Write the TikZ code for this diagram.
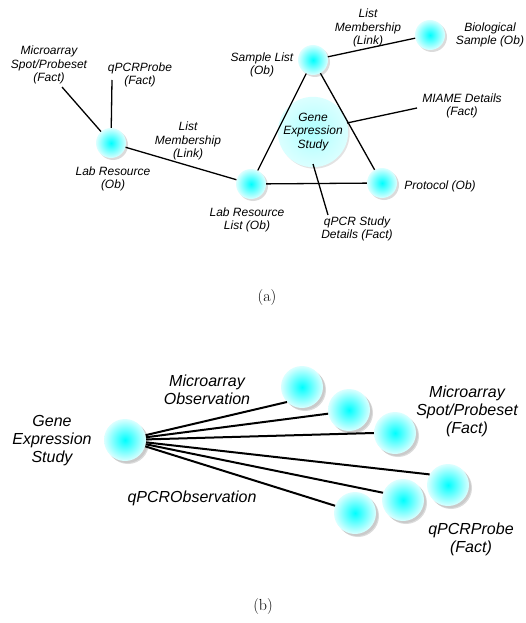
\documentclass[tikz,border=0pt]{standalone}
\usepackage{fontspec}
\setsansfont{Liberation Sans}
\usepackage{tikz}
\usetikzlibrary{shadows}

\tikzset{
	ball/.style={shape=circle, minimum size=30pt, inner sep=0pt, shading=radial, inner color=cyan, outer color=cyan!14, drop shadow={shadow xshift=2pt, shadow yshift=-2pt, fill=black!28}},
	bigball/.style={ball, minimum size=42pt, drop shadow={shadow xshift=3pt, shadow yshift=-3pt, fill=black!28}},
	study/.style={shape=circle, minimum size=64pt, inner sep=0pt, align=center, shading=radial, inner color=cyan!32, outer color=cyan!14, font=\fontsize{12}{13.5}\selectfont\sffamily\itshape, drop shadow={shadow xshift=1.5pt, shadow yshift=-1.5pt, fill=black!22}},
	lbl/.style={align=center, inner sep=0pt, font=\fontsize{12}{13.5}\selectfont\sffamily\itshape},
	biglbl/.style={align=center, inner sep=0pt, font=\fontsize{16}{18}\selectfont\sffamily\itshape},
	caption/.style={inner sep=0pt, font=\fontsize{16}{18}\selectfont},
	link/.style={draw=black, line width=1.3pt},
	biglink/.style={draw=black, line width=2pt}
}

\begin{document}
\begin{tikzpicture}[x=1pt, y=-1pt]
	\useasboundingbox (0,0) rectangle (525,623);

	\node[ball] (lr)   at (111, 143) {};
	\node[ball] (lrl)  at (251, 184) {};
	\node[ball] (prot) at (382, 183) {};
	\node[ball] (sl)   at (313, 60)  {};
	\node[ball] (bio)  at (430, 35)  {};
	\node[study] (ges) at (313, 132) {Gene\\Expression\\Study};

	\node[lbl] (msp)   at (49, 65)   {Microarray\\Spot/Probeset\\(Fact)};
	\node[lbl] (qpp)   at (140, 75)  {qPCRProbe\\(Fact)};
	\node[lbl] (lrt)   at (113, 179) {Lab Resource\\(Ob)};
	\node[lbl] (lma)   at (188, 141) {List\\Membership\\(Link)};
	\node[lbl] (lmb)   at (368, 28)  {List\\Membership\\(Link)};
	\node[lbl] (slt)   at (262, 65)  {Sample List\\(Ob)};
	\node[lbl] (biot)  at (490, 35)  {Biological\\Sample (Ob)};
	\node[lbl] (miame) at (462, 106) {MIAME Details\\(Fact)};
	\node[lbl] (qsd)   at (357, 229) {qPCR Study\\Details (Fact)};
	\node[lbl] (prott) at (440, 186) {Protocol (Ob)};
	\node[lbl] (lrlt)  at (247, 220) {Lab Resource\\List (Ob)};
	\node[caption] (capa) at (267, 298) {(a)};

	\coordinate (mspe)   at (62, 87);
	\coordinate (qppe)   at (112, 80);
	\coordinate (miamei) at (347, 123);
	\coordinate (miamee) at (417, 108);
	\coordinate (qsdi)   at (313, 164);
	\coordinate (qsde)   at (328, 215);

	\path[link] (mspe) edge (lr);
	\path[link] (qppe) edge (lr);
	\path[link] (lr) edge (lrl);
	\path[link] (lrl) edge (sl);
	\path[link] (sl) edge (prot);
	\path[link] (lrl) edge (prot);
	\path[link] (sl) edge (bio);
	\path[link] (miamei) edge (miamee);
	\path[link] (qsdi) edge (qsde);

	\node[bigball] (gesb) at (125, 440) {};
	\node[bigball] (moa)  at (302, 387) {};
	\node[bigball] (mob)  at (349, 410) {};
	\node[bigball] (mspb) at (395, 433) {};
	\node[bigball] (qpa)  at (448, 485) {};
	\node[bigball] (qpb)  at (403, 500) {};
	\node[bigball] (qoa)  at (355, 513) {};

	\node[biglbl] (gest) at (52, 441)  {Gene\\Expression\\Study};
	\node[biglbl] (mot)  at (207, 390) {Microarray\\Observation};
	\node[biglbl] (mspt) at (467, 411) {Microarray\\Spot/Probeset\\(Fact)};
	\node[biglbl] (qot)  at (192, 498) {qPCRObservation};
	\node[biglbl] (qppt) at (471, 539) {qPCRProbe\\(Fact)};
	\node[caption] (capb) at (263, 606) {(b)};

	\path[biglink] (gesb) edge (moa.225);
	\path[biglink] (gesb) edge (mob.190);
	\path[biglink] (gesb) edge (mspb.west);
	\path[biglink] (gesb) edge (qpa.150);
	\path[biglink] (gesb) edge (qpb.160);
	\path[biglink] (gesb) edge (qoa.160);

\end{tikzpicture}
\end{document}
